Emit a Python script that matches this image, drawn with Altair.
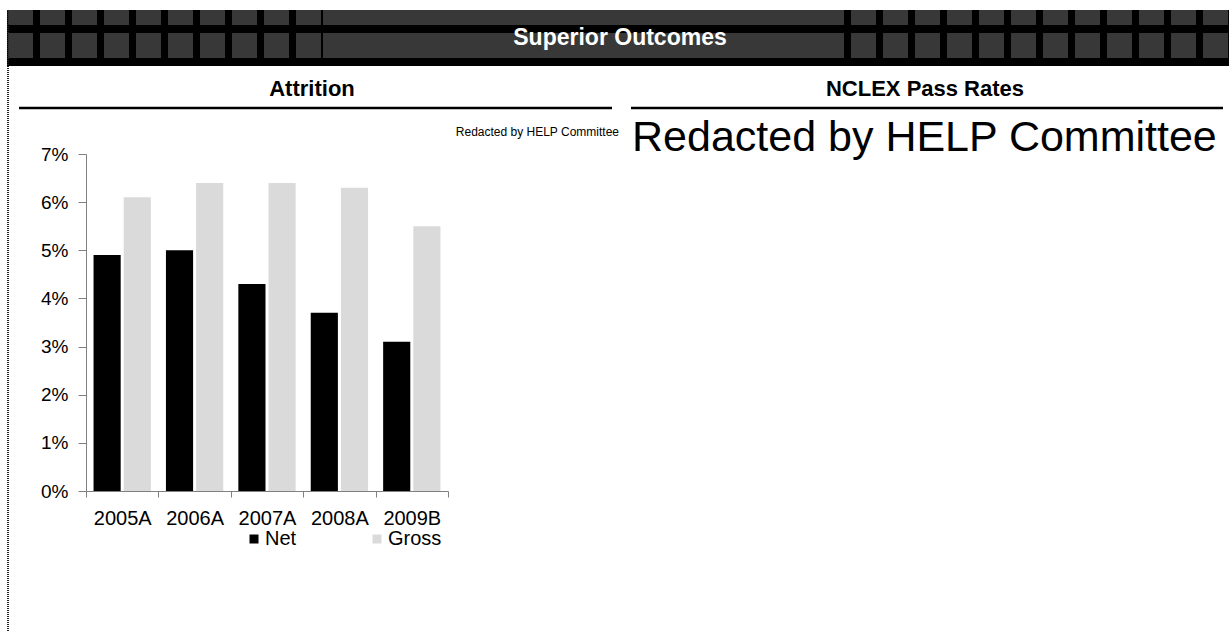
import altair as alt
import pandas as pd

years = ["2005A", "2006A", "2007A", "2008A", "2009B"]
net = [0.049, 0.050, 0.043, 0.037, 0.031]
gross = [0.061, 0.064, 0.064, 0.063, 0.055]
series = ["Net", "Gross"]
colors = ["#000000", "#dadada"]

FONT = "Liberation Sans"
OX, OY = 86, 154  # plot origin on the page
W, H = 362, 337

rows = []
for y, n, g in zip(years, net, gross):
    rows.append({"year": y, "series": "Net", "value": n})
    rows.append({"year": y, "series": "Gross", "value": g})
df = pd.DataFrame(rows)

bars = alt.Chart(df).mark_bar().encode(
    x=alt.X("year:N", sort=years, title=None,
            scale=alt.Scale(paddingInner=0, paddingOuter=0),
            axis=alt.Axis(labelAngle=0, tickBand="extent", tickSize=6, labelPadding=11,
                          labelFontSize=20, labelFont=FONT, labelColor="#000",
                          domainColor="#808080", tickColor="#808080", grid=False)),
    xOffset=alt.XOffset("series:N", sort=series,
                        scale=alt.Scale(paddingInner=0.1, paddingOuter=0.25)),
    y=alt.Y("value:Q", title=None,
            scale=alt.Scale(domain=[0, 0.07], nice=False),
            axis=alt.Axis(format=".0%", values=[0, 0.01, 0.02, 0.03, 0.04, 0.05, 0.06, 0.07],
                          tickSize=8, labelPadding=10, labelFontSize=19, labelFont=FONT,
                          labelColor="#000", domainColor="#808080", tickColor="#808080",
                          grid=False)),
    color=alt.Color("series:N", sort=series,
                    scale=alt.Scale(domain=series, range=colors),
                    legend=alt.Legend(title=None, orient="none", legendX=158, legendY=375,
                                      direction="horizontal", symbolType="square",
                                      symbolSize=81, symbolStrokeWidth=0,
                                      labelFontSize=20, labelFont=FONT, labelColor="#000",
                                      labelOffset=1, columnPadding=70)),
)

one = alt.Data(values=[{"k": 1}])

def px(x):
    return alt.value(x - OX)

def py(y):
    return alt.value(y - OY)

banner = alt.Chart(one).mark_rect(color="#000000").encode(
    x=px(7), x2=px(1229), y=py(10), y2=py(66))

def strip(x1, x2, yc, sw, dash):
    kw = dict(color="#383838", strokeWidth=sw, strokeCap="butt")
    if dash:
        kw["strokeDash"] = [25, 7]
    return alt.Chart(one).mark_rule(**kw).encode(
        x=px(x1), x2=px(x2), y=py(yc), y2=py(yc))

strips = [
    strip(8, 323, 17.5, 15, True),
    strip(8, 323, 45.5, 25, True),
    strip(323, 837, 17.5, 15, False),
    strip(323, 837, 45.5, 25, False),
    strip(1228, 837, 17.5, 15, True),
    strip(1228, 837, 45.5, 25, True),
]

def label(text, x, y, size, bold=False, color="#000", align="center"):
    return alt.Chart(one).mark_text(
        text=text, font=FONT, fontSize=size, fontWeight="bold" if bold else "normal",
        color=color, align=align, baseline="middle").encode(x=px(x), y=py(y))

title = label("Superior Outcomes", 620, 38, 23, bold=True, color="#ffffff")
t_attr = label("Attrition", 312, 89, 22, bold=True)
t_nclex = label("NCLEX Pass Rates", 925, 89, 22, bold=True)
red_small = label("Redacted by HELP Committee", 619, 132, 12, align="right")
red_big = label("Redacted by HELP Committee", 632, 138, 43, align="left")

line_l = alt.Chart(one).mark_rule(color="#000", strokeWidth=2.5).encode(
    x=px(19), x2=px(612), y=py(108), y2=py(108))
line_r = alt.Chart(one).mark_rule(color="#000", strokeWidth=2.5).encode(
    x=px(631), x2=px(1223), y=py(108), y2=py(108))
frame = alt.Chart(one).mark_rule(color="#222", strokeWidth=2, strokeDash=[1, 1]).encode(
    x=px(8), x2=px(8), y=py(10), y2=py(632))

chart = alt.layer(
    banner, *strips, title, t_attr, t_nclex, line_l, line_r, frame,
    red_small, red_big, bars,
).properties(
    width=W, height=H,
    padding={"left": OX, "top": OY, "right": 1229 - OX - W, "bottom": 632 - OY - H},
    autosize=alt.AutoSizeParams(type="none"),
    background="#ffffff",
).configure_view(stroke=None)

chart.save("out.html", embed_options={"renderer": "svg", "actions": False})
